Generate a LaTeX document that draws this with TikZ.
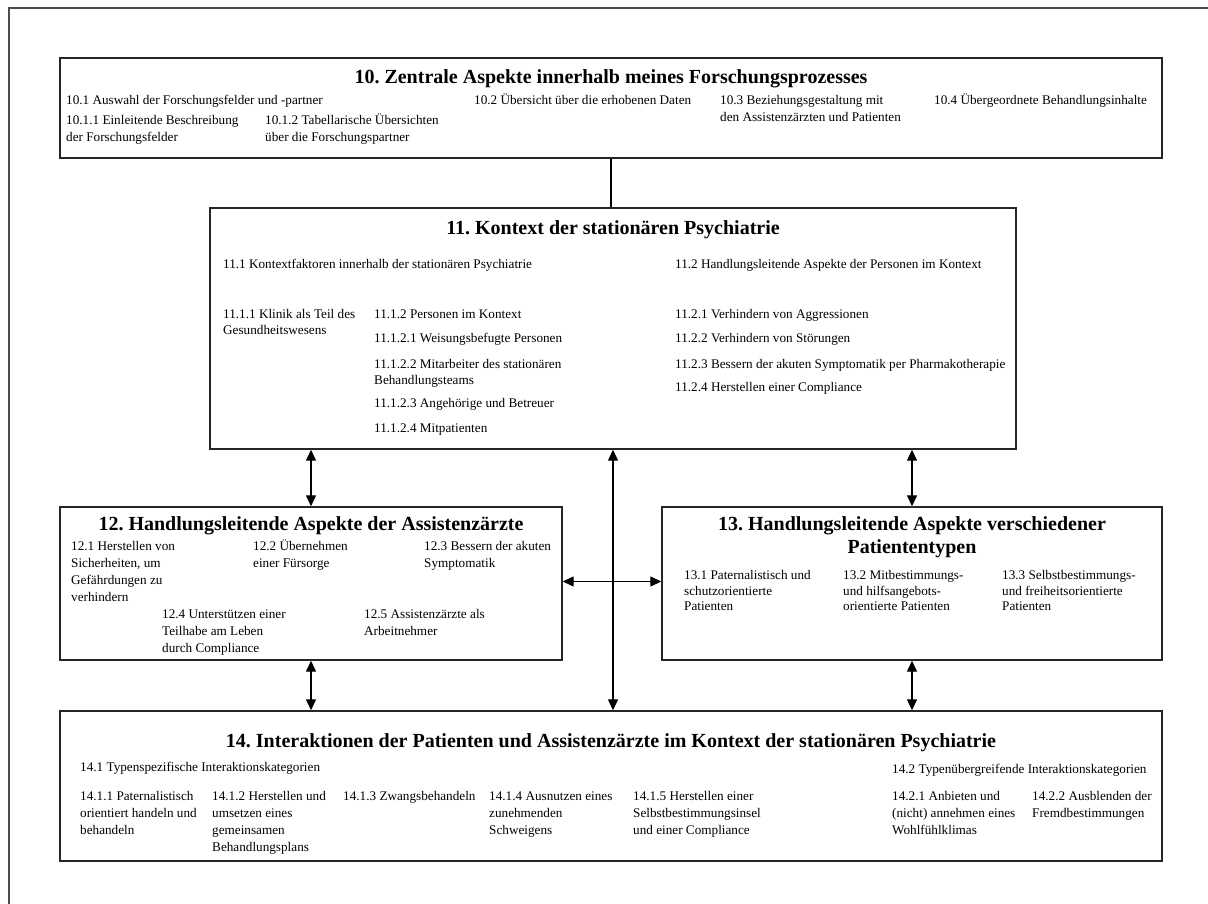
\documentclass[tikz,border=0pt]{standalone}
\usepackage{fontspec}
\setmainfont{Liberation Serif}
\usetikzlibrary{arrows.meta}
% multi-line text whose baseline is that of its first line
\newcommand{\mlt}[1]{\begin{tabular}[t]{@{}l@{}}#1\end{tabular}}
\newcommand{\mltc}[1]{\begin{tabular}[t]{@{}c@{}}#1\end{tabular}}
\frenchspacing
\begin{document}
\begin{tikzpicture}[x=1pt,y=-1pt,
  box/.style={draw=black!85, line width=1.4pt, inner sep=0pt},
  ttl/.style={anchor=base, inner sep=0pt, font=\fontsize{20}{23}\selectfont\bfseries},
  txt/.style={anchor=base west, inner sep=0pt, font=\fontsize{13.2}{17}\selectfont},
  txtb/.style={txt, font=\fontsize{13.2}{16}\selectfont},
  txtc/.style={txt, font=\fontsize{13.2}{15.5}\selectfont},
  link/.style={draw=black, line width=1.3pt},
  dbl/.style={link, {Triangle[length=11pt,width=10pt]}-{Triangle[length=11pt,width=10pt]}}
]
\useasboundingbox (0,0) rectangle (1208,904);

% outer frame (only top and left edges lie inside the page)
\draw[draw=black!70, line width=1.5pt] (9,904) -- (9,8) -- (1208,8);

% main boxes
\node[box, minimum width=1102pt, minimum height=100pt] (b10) at (611,108) {};
\node[box, minimum width=806pt,  minimum height=241pt] (b11) at (613,328.5) {};
\node[box, minimum width=502pt,  minimum height=153pt] (b12) at (311,583.5) {};
\node[box, minimum width=500pt,  minimum height=153pt] (b13) at (912,583.5) {};
\node[box, minimum width=1102pt, minimum height=150pt] (b14) at (611,786) {};

% connectors
\draw[link] (b10.south) -- (b10.south |- b11.north);
\draw[dbl] (b12.north |- b11.south) -- (b12.north);
\draw[dbl] (b11.south) -- (b11.south |- b14.north);
\draw[dbl] (b13.north |- b11.south) -- (b13.north);
\draw[dbl] ([yshift=2pt]b12.east) -- ([yshift=2pt]b13.west);
\draw[dbl] (b12.south) -- (b12.south |- b14.north);
\draw[dbl] (b13.south) -- (b13.south |- b14.north);

% box 10
\node[ttl] (t10) at (611,83.6) {10. Zentrale Aspekte innerhalb meines Forschungsprozesses};
\node[txt] (n10a) at (66,105) {10.1 Auswahl der Forschungsfelder und -partner};
\node[txt] (n10b) at (474,105) {10.2 Übersicht über die erhobenen Daten};
\node[txt] (n10c) at (720,105) {\mlt{10.3 Beziehungsgestaltung mit\\den Assistenzärzten und Patienten}};
\node[txt] (n10d) at (934,105) {10.4 Übergeordnete Behandlungsinhalte};
\node[txt] (n10aa) at (66,125) {\mlt{10.1.1 Einleitende Beschreibung\\der Forschungsfelder}};
\node[txt] (n10ab) at (265,125) {\mlt{10.1.2 Tabellarische Übersichten\\über die Forschungspartner}};

% box 11
\node[ttl] (t11) at (613,234.6) {11. Kontext der stationären Psychiatrie};
\node[txtb] (n11a) at (223,268.3) {11.1 Kontextfaktoren innerhalb der stationären Psychiatrie};
\node[txtb] (n11b) at (675,268.3) {11.2 Handlungsleitende Aspekte der Personen im Kontext};
\node[txtb] (n11aa) at (223,318.6) {\mlt{11.1.1 Klinik als Teil des\\Gesundheitswesens}};
\node[txtb] (n11ab) at (374,318.6) {11.1.2 Personen im Kontext};
\node[txtb] (n11aba) at (374,342) {11.1.2.1 Weisungsbefugte Personen};
\node[txtb] (n11abb) at (374,368.3) {\mlt{11.1.2.2 Mitarbeiter des stationären\\Behandlungsteams}};
\node[txtb] (n11abc) at (374,407.6) {11.1.2.3 Angehörige und Betreuer};
\node[txtb] (n11abd) at (374,432.6) {11.1.2.4 Mitpatienten};
\node[txtb] (n11ba) at (675,318.6) {11.2.1 Verhindern von Aggressionen};
\node[txtb] (n11bb) at (675,342) {11.2.2 Verhindern von Störungen};
\node[txtb] (n11bc) at (675,368.3) {11.2.3 Bessern der akuten Symptomatik per Pharmakotherapie};
\node[txtb] (n11bd) at (675,391) {11.2.4 Herstellen einer Compliance};

% box 12
\node[ttl] (t12) at (311,530) {12. Handlungsleitende Aspekte der Assistenzärzte};
\node[txt] (n12a) at (71,550.5) {\mlt{12.1 Herstellen von\\Sicherheiten, um\\Gefährdungen zu\\verhindern}};
\node[txt] (n12b) at (253,550.5) {\mlt{12.2 Übernehmen\\einer Fürsorge}};
\node[txt] (n12c) at (424,550.5) {\mlt{12.3 Bessern der akuten\\Symptomatik}};
\node[txt] (n12d) at (162,618.5) {\mlt{12.4 Unterstützen einer\\Teilhabe am Leben\\durch Compliance}};
\node[txt] (n12e) at (364,618.5) {\mlt{12.5 Assistenzärzte als\\Arbeitnehmer}};

% box 13
\node[ttl] (t13) at (912,530) {\mltc{13. Handlungsleitende Aspekte verschiedener\\Patiententypen}};
\node[txtc] (n13a) at (684,579.5) {\mlt{13.1 Paternalistisch und\\schutzorientierte\\Patienten}};
\node[txtc] (n13b) at (843,579.5) {\mlt{13.2 Mitbestimmungs-\\und hilfsangebots-\\orientierte Patienten}};
\node[txtc] (n13c) at (1002,579.5) {\mlt{13.3 Selbstbestimmungs-\\und freiheitsorientierte\\Patienten}};

% box 14
\node[ttl] (t14) at (611,747.6) {14. Interaktionen der Patienten und Assistenzärzte im Kontext der stationären Psychiatrie};
\node[txt] (n14a) at (80,771) {14.1 Typenspezifische Interaktionskategorien};
\node[txt] (n14b) at (892,773) {14.2 Typenübergreifende Interaktionskategorien};
\node[txt] (n14aa) at (80,800) {\mlt{14.1.1 Paternalistisch\\orientiert handeln und\\behandeln}};
\node[txt] (n14ab) at (212,800) {\mlt{14.1.2 Herstellen und\\umsetzen eines\\gemeinsamen\\Behandlungsplans}};
\node[txt] (n14ac) at (343,800) {14.1.3 Zwangsbehandeln};
\node[txt] (n14ad) at (489,800) {\mlt{14.1.4 Ausnutzen eines\\zunehmenden\\Schweigens}};
\node[txt] (n14ae) at (633,800) {\mlt{14.1.5 Herstellen einer\\Selbstbestimmungsinsel\\und einer Compliance}};
\node[txt] (n14ba) at (892,800) {\mlt{14.2.1 Anbieten und\\(nicht) annehmen eines\\Wohlfühlklimas}};
\node[txt] (n14bb) at (1032,800) {\mlt{14.2.2 Ausblenden der\\Fremdbestimmungen}};
\end{tikzpicture}
\end{document}
